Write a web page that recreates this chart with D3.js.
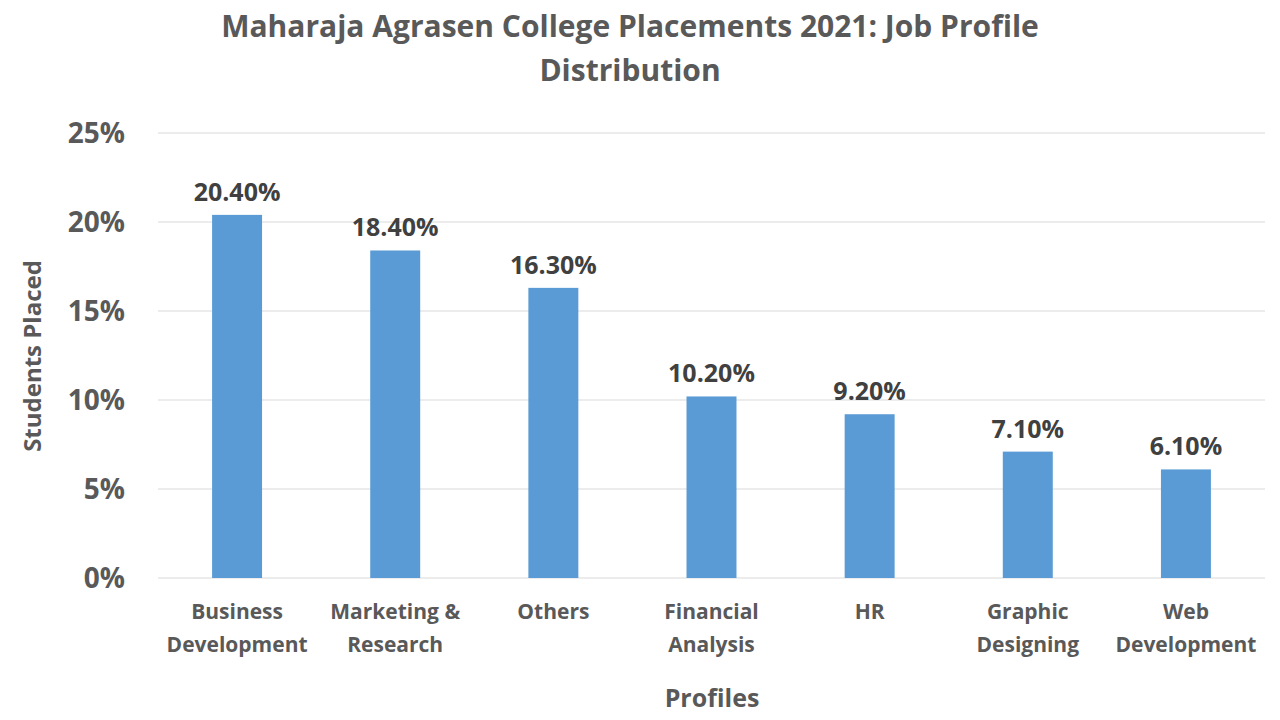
<!DOCTYPE html>
<html>
<head>
<script src="https://d3js.org/d3.v7.min.js"></script>
<style>
  body { margin: 0; background: #fff; }
  text { font-family: "Open Sans", "Liberation Sans", sans-serif; font-weight: bold; }
</style>
</head>
<body>
<svg id="chart" width="1280" height="720"></svg>
<script>
var categories = [["Business", "Development"], ["Marketing &", "Research"], ["Others"],
    ["Financial", "Analysis"], ["HR"], ["Graphic", "Designing"], ["Web", "Development"]];
var values = [20.4, 18.4, 16.3, 10.2, 9.2, 7.1, 6.1];
var yTicks = [0, 5, 10, 15, 20, 25];

var plotLeft = 158, plotRight = 1265, plotTop = 133, plotBottom = 578;
var svg = d3.select("#chart");

var x = d3.scaleBand().domain(d3.range(values.length)).range([plotLeft, plotRight]).paddingInner(0.684).paddingOuter(0.342);
var y = d3.scaleLinear().domain([0, 25]).range([plotBottom, plotTop]);

svg.selectAll(".grid").data(yTicks).enter().append("line")
    .attr("x1", plotLeft).attr("x2", plotRight)
    .attr("y1", function(d){ return y(d); }).attr("y2", function(d){ return y(d); })
    .attr("stroke", "#d9d9d9").attr("stroke-width", 1);

svg.selectAll(".ytick").data(yTicks).enter().append("text")
    .attr("x", 125).attr("y", function(d){ return y(d) + 10; })
    .attr("text-anchor", "end").attr("font-size", 28).attr("fill", "#595959")
    .text(function(d){ return d + "%"; });

svg.selectAll(".bar").data(values).enter().append("rect")
    .attr("x", function(d, i){ return x(i); })
    .attr("width", x.bandwidth())
    .attr("y", function(d){ return y(d); })
    .attr("height", function(d){ return plotBottom - y(d); })
    .attr("fill", "#5b9bd5");

svg.selectAll(".label").data(values).enter().append("text")
    .attr("x", function(d, i){ return x(i) + x.bandwidth()/2; })
    .attr("y", function(d){ return y(d) - 14; })
    .attr("text-anchor", "middle").attr("font-size", 25).attr("fill", "#404040")
    .text(function(d){ return d.toFixed(2) + "%"; });

categories.forEach(function(c, i){
    var t = svg.append("text").attr("text-anchor", "middle").attr("font-size", 21).attr("fill", "#595959");
    c.forEach(function(line, j){
        t.append("tspan").attr("x", x(i) + x.bandwidth()/2).attr("y", 619 + j*33).text(line);
    });
});

svg.append("text").attr("x", 630).attr("y", 37).attr("text-anchor", "middle")
    .attr("font-size", 30).attr("fill", "#595959").text("Maharaja  Agrasen College Placements 2021: Job Profile");
svg.append("text").attr("x", 630).attr("y", 81).attr("text-anchor", "middle")
    .attr("font-size", 30).attr("fill", "#595959").text("Distribution");
svg.append("text").attr("x", 712).attr("y", 707).attr("text-anchor", "middle")
    .attr("font-size", 25).attr("fill", "#595959").text("Profiles");
svg.append("text").attr("transform", "translate(41,356) rotate(-90)").attr("text-anchor", "middle")
    .attr("font-size", 24).attr("fill", "#595959").text("Students Placed");
</script>
</body>
</html>
